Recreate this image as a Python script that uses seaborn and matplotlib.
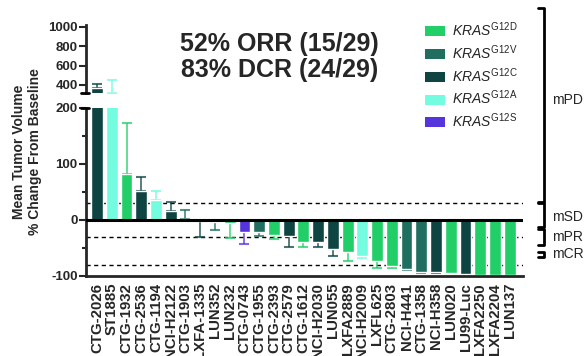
import matplotlib
matplotlib.use("Agg")
import matplotlib.pyplot as plt
from matplotlib.lines import Line2D
from matplotlib.patches import Patch
import numpy as np
import pandas as pd
import seaborn as sns

sns.set_style("ticks")
plt.rcParams["font.family"] = ["Liberation Sans", "DejaVu Sans"]
plt.rcParams["mathtext.fontset"] = "custom"
plt.rcParams["mathtext.rm"] = "Liberation Sans"
plt.rcParams["mathtext.it"] = "Liberation Sans:italic"

# Mean tumor volume change per model, with SEM (one-sided, away from zero)
models = ["CTG-2026", "ST1885", "CTG-1932", "CTG-2536", "CTG-1194", "NCI-H2122",
          "CTG-1903", "LXFA-1335", "LUN352", "LUN232", "CTG-0743", "CTG-1955",
          "CTG-2393", "CTG-2579", "CTG-1612", "NCI-H2030", "LUN055", "LXFA2889",
          "NCI-H2009", "LXFL625", "CTG-2803", "NCI-H441", "CTG-1358", "NCI-H358",
          "LUN020", "LU99-Luc", "LXFA2250", "LXFA2204", "LUN137"]
genotype = ["G12C", "G12A", "G12D", "G12C", "G12A", "G12C",
            "G12V", "G12C", "G12V", "G12D", "G12S", "G12V",
            "G12D", "G12C", "G12D", "G12C", "G12C", "G12D",
            "G12A", "G12D", "G12D", "G12V", "G12V", "G12C",
            "G12D", "G12C", "G12D", "G12D", "G12D"]
change = [370, 320, 83, 52, 36, 16,
          1, -1, -3, -5, -21, -21,
          -27, -29, -39, -40, -52, -57,
          -64, -73, -83, -87, -93, -92,
          -94, -96, -98, -98, -98]
sem = [45, 130, 90, 25, 15, 17,
       16, 29, 15, 27, 22, 7,
       7, 19, 10, 8, 12, 17,
       3, 12, 2, 2, 1, 3,
       0, 1, 1, 0, 0]

genotypes = ["G12D", "G12V", "G12C", "G12A", "G12S"]
colors = ["#22CE68", "#1F6E5F", "#0E4442", "#74FCE0", "#5533DD"]
palette = dict(zip(genotypes, colors))

top_ticks = [400, 600, 800, 1000]
bottom_ticks = [-100, 0, 100, 200]

df = pd.DataFrame({"model": models, "genotype": genotype,
                   "change": change, "sem": sem})

W, H = 585, 356
fig = plt.figure(figsize=(W / 100, H / 100), dpi=100)

def fx(px):
    return px / W

def fy(py):
    return 1 - py / H

left, right = 86, 523
ax = fig.add_axes([fx(left), fy(276), fx(right - left), (276 - 108) / H])
ax_top = fig.add_axes([fx(left), fy(93.3), fx(right - left), (93.3 - 25) / H])

for a in (ax_top, ax):
    sns.barplot(data=df, x="model", y="change", hue="genotype", order=models,
                hue_order=genotypes, palette=palette, dodge=False, width=0.8,
                saturation=1, legend=False, errorbar=None, ax=a, zorder=2)
    for i, (v, e, g) in enumerate(zip(change, sem, genotype)):
        if e <= 0:
            continue
        lo, hi = (0, e) if v >= 0 else (e, 0)
        a.errorbar(i, v, yerr=[[lo], [hi]], fmt="none", ecolor=palette[g],
                   alpha=0.75, elinewidth=1.3, capsize=3.8, capthick=1.5, zorder=1)
    a.set_xlim(-0.75, len(models) - 0.1)
    a.set_xlabel("")
    a.set_ylabel("")
    for s in ("top", "right"):
        a.spines[s].set_visible(False)
    a.spines["left"].set_linewidth(2)
    a.tick_params(axis="y", width=1.5, length=5, labelsize=9.5, pad=1)

# upper panel: the large values
ax_top.set_ylim(314, 1020)
ax_top.set_yticks(top_ticks)
ax_top.set_yticklabels([str(t) for t in top_ticks], fontweight="bold")
ax_top.spines["bottom"].set_visible(False)
ax_top.set_xticks([])
ax_top.patch.set_alpha(0)

# lower panel
ax.set_ylim(-100, 200)
ax.set_yticks(bottom_ticks)
ax.set_yticklabels([str(t) for t in bottom_ticks], fontweight="bold")
ax.set_yticks([-50, 50, 150], minor=True)
ax.tick_params(axis="y", which="minor", width=1.5, length=3)
ax.spines["bottom"].set_linewidth(2)
ax.tick_params(axis="x", length=0, pad=5)
ax.set_xticks(range(len(models)))
ax.set_xticklabels(models, rotation=90, fontweight="bold", fontsize=10.8)

ax.axhline(0, color="black", lw=2.2, zorder=3)
for yv in (30, -30, -80):
    ax.axhline(yv, color="black", lw=1, ls=(0, (3, 2.5)), zorder=0)

# axis break marks
for py in (93.3, 108.3):
    fig.add_artist(Line2D([fx(81), fx(89)], [fy(py), fy(py)], color="black", lw=2))

fig.text(fx(27), fy(152), "Mean Tumor Volume\n% Change From Baseline",
         rotation=90, ha="center", va="center", fontsize=10,
         fontweight="bold", multialignment="center", linespacing=1.1)

fig.text(fx(279.5), fy(57), "52% ORR (15/29)\n83% DCR (24/29)", ha="center",
         va="center", fontsize=18, fontweight="bold", linespacing=1.12)

handles = [Patch(facecolor=palette[g], edgecolor="none") for g in genotypes]
labels = [r"$\mathit{KRAS}^{\mathrm{%s}}$" % g for g in genotypes]
fig.legend(handles, labels, loc="upper left", bbox_to_anchor=(fx(419), fy(15)),
           frameon=False, fontsize=10, handlelength=1.5, handleheight=0.75,
           handletextpad=0.45, labelspacing=0.3, borderaxespad=0)

# response brackets
bx = 544
brackets = [("mPD", 8, 202, 100), ("mSD", 203, 227, 217),
            ("mPR", 229, 245, 237), ("mCR", 252, 257, 254.5)]
for name, y0, y1, yt in brackets:
    fig.add_artist(Line2D([fx(bx - 6), fx(bx), fx(bx), fx(bx - 6)],
                          [fy(y0), fy(y0), fy(y1), fy(y1)],
                          color="black", lw=2))
    fig.text(fx(552), fy(yt), name, ha="left", va="center", fontsize=10)

fig.savefig("out.png", dpi=100)
